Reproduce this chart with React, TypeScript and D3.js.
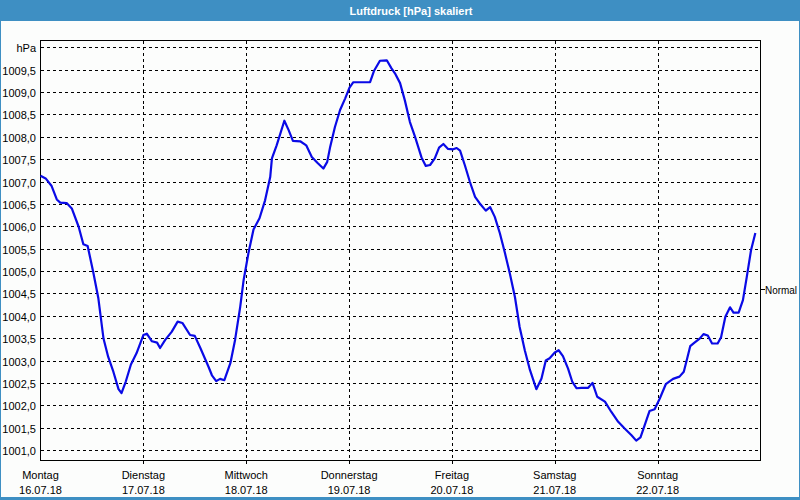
import React from "react";
import * as d3 from "d3";

// hours since Monday 16.07.18 00:00
const hours = [
  0, 1.2, 2.6, 3.8, 4.6, 6.1, 7.3, 8.9, 10, 11, 12.3, 13.5, 14.7, 15.8, 17, 18.2, 18.9, 19.9,
  21.1, 22.4, 24, 24.8, 26, 27.2, 27.9, 29.1, 30.6, 32, 33.1, 34.9, 36, 37.3, 39.2, 40, 41,
  41.9, 42.9, 44.3, 45.4, 46.6, 47.4, 48.5, 49.7, 51.1, 52.4, 53.6, 54, 55.1, 56.9, 57.9, 58.9,
  60.6, 62, 63.3, 64.6, 66, 66.9, 67.6, 68.7, 69.9, 71.1, 72.1, 73, 75.3, 76.9, 77.8, 79.2,
  80.8, 81.9, 82.7, 83.9, 85, 86.2, 87.4, 88.9, 89.9, 90.9, 92, 93, 94, 95.1, 96.3, 97.1, 97.9,
  99, 100.2, 101.4, 102.5, 103.9, 104.9, 106, 107.2, 108.4, 109.5, 110.7, 111.8, 113, 114.2,
  115.7, 116.9, 117.9, 118.8, 120, 120.9, 121.9, 123.1, 124.1, 125.1, 126.2, 127.8, 128.8,
  129.9, 131.7, 133.2, 134.8, 136.3, 137.9, 139, 140, 141, 142.1, 143.3, 144.5, 145.9, 147.6,
  149.1, 150.1, 150.8, 151.6, 152.6, 153.8, 154.7, 155.7, 156.7, 158, 158.8, 159.8, 160.9,
  161.7, 162.9, 163.9, 164.8, 165.8, 166.8,
];

const pressure = [
  1007.13, 1007.07, 1006.9, 1006.6, 1006.53, 1006.52, 1006.4, 1005.99, 1005.6, 1005.56, 1004.98,
  1004.39, 1003.49, 1003.08, 1002.75, 1002.36, 1002.27, 1002.53, 1002.91, 1003.16, 1003.57,
  1003.6, 1003.43, 1003.4, 1003.28, 1003.46, 1003.64, 1003.87, 1003.84, 1003.57, 1003.55,
  1003.28, 1002.86, 1002.67, 1002.54, 1002.59, 1002.56, 1002.94, 1003.46, 1004.2, 1004.8,
  1005.39, 1005.93, 1006.18, 1006.58, 1007.1, 1007.52, 1007.81, 1008.36, 1008.15, 1007.91,
  1007.9, 1007.81, 1007.55, 1007.42, 1007.29, 1007.44, 1007.78, 1008.22, 1008.6, 1008.86,
  1009.1, 1009.22, 1009.22, 1009.22, 1009.47, 1009.7, 1009.71, 1009.53, 1009.42, 1009.2,
  1008.82, 1008.33, 1008.0, 1007.54, 1007.35, 1007.37, 1007.52, 1007.76, 1007.84, 1007.73,
  1007.72, 1007.75, 1007.69, 1007.37, 1006.99, 1006.66, 1006.51, 1006.35, 1006.43, 1006.21,
  1005.84, 1005.39, 1004.95, 1004.42, 1003.75, 1003.23, 1002.79, 1002.36, 1002.6, 1003.0,
  1003.05, 1003.18, 1003.23, 1003.1, 1002.82, 1002.52, 1002.38, 1002.39, 1002.39, 1002.5,
  1002.19, 1002.08, 1001.85, 1001.63, 1001.48, 1001.33, 1001.21, 1001.28, 1001.56, 1001.87,
  1001.91, 1002.15, 1002.47, 1002.59, 1002.64, 1002.75, 1003.01, 1003.32, 1003.4, 1003.49,
  1003.59, 1003.56, 1003.38, 1003.38, 1003.52, 1003.98, 1004.19, 1004.07, 1004.07, 1004.35,
  1004.87, 1005.47, 1005.85,
];

const dayNames = ["Montag", "Dienstag", "Mittwoch", "Donnerstag", "Freitag", "Samstag", "Sonntag"];
const dayDates = ["16.07.18", "17.07.18", "18.07.18", "19.07.18", "20.07.18", "21.07.18", "22.07.18"];

const yTicks = [
  1001.0, 1001.5, 1002.0, 1002.5, 1003.0, 1003.5, 1004.0, 1004.5, 1005.0, 1005.5, 1006.0,
  1006.5, 1007.0, 1007.5, 1008.0, 1008.5, 1009.0, 1009.5, 1010.0,
];
const yUnit = "hPa";
const normalValue = 1004.6;
const normalLabel = "Normal";
const title = "Luftdruck [hPa] skaliert";

const W = 800;
const H = 500;
const left = 40.5;
const right = 760.5;
const top = 40.5;
const bottom = 460.5;
const font = "'Liberation Sans', Arial, sans-serif";

export default function App() {
  const x = d3.scaleLinear().domain([0, 168]).range([left, right]);
  const y = d3.scaleLinear().domain([1001, 1009.5]).range([450, 69.7]);

  const line = d3
    .line<number>()
    .x((_, i) => x(hours[i]))
    .y((d) => y(d));

  const fmt = (v: number) => v.toFixed(1).replace(".", ",");

  return (
    <svg
      width={W}
      height={H}
      style={{ position: "absolute", left: 0, top: 0, display: "block" }}
      fontFamily={font}
    >
      <rect x={0} y={0} width={W} height={H} fill="#3e8fc3" />
      <rect x={1} y={21} width={798} height={476} fill="#fcfdfc" />
      <text
        x={411}
        y={15}
        textAnchor="middle"
        fill="#ffffff"
        fontWeight="bold"
        fontSize={11}
      >
        {title}
      </text>

      {/* horizontal grid */}
      {yTicks.map((t) => (
        <line
          key={"h" + t}
          x1={left}
          x2={right}
          y1={Math.round(y(t)) + 0.5}
          y2={Math.round(y(t)) + 0.5}
          stroke="#000"
          strokeDasharray="3,3"
          shapeRendering="crispEdges"
        />
      ))}
      {/* vertical grid + day ticks */}
      {dayNames.map((_, i) =>
        i === 0 ? null : (
          <line
            key={"v" + i}
            x1={Math.round(x(i * 24)) + 0.5}
            x2={Math.round(x(i * 24)) + 0.5}
            y1={top}
            y2={bottom + 3}
            stroke="#000"
            strokeDasharray="3,3"
            shapeRendering="crispEdges"
          />
        )
      )}

      {/* frame */}
      <rect
        x={left}
        y={top}
        width={right - left}
        height={bottom - top}
        fill="none"
        stroke="#000"
        strokeWidth={1}
        shapeRendering="crispEdges"
      />
      <line
        x1={right}
        x2={right + 4}
        y1={Math.round(y(normalValue)) + 0.5}
        y2={Math.round(y(normalValue)) + 0.5}
        stroke="#000"
        shapeRendering="crispEdges"
      />

      {/* y labels */}
      {yTicks.map((t, i) => (
        <text
          key={"yl" + t}
          x={36}
          y={y(t) + 5}
          textAnchor="end"
          fontSize={11}
          fill="#000"
        >
          {i === yTicks.length - 1 ? yUnit : fmt(t)}
        </text>
      ))}
      <text
        x={765}
        y={y(normalValue) + 5}
        fontSize={11}
        fill="#000"
        textLength={32}
        lengthAdjust="spacingAndGlyphs"
      >
        {normalLabel}
      </text>

      {/* x labels */}
      {dayNames.map((d, i) => (
        <g key={"xl" + i}>
          <text x={x(i * 24)} y={479} textAnchor="middle" fontSize={11} fill="#000">
            {d}
          </text>
          <text x={x(i * 24)} y={494} textAnchor="middle" fontSize={11} fill="#000">
            {dayDates[i]}
          </text>
        </g>
      ))}

      <path
        d={line(pressure) || ""}
        fill="none"
        stroke="#0a0ae6"
        strokeWidth={2.2}
        strokeLinejoin="round"
      />
    </svg>
  );
}
